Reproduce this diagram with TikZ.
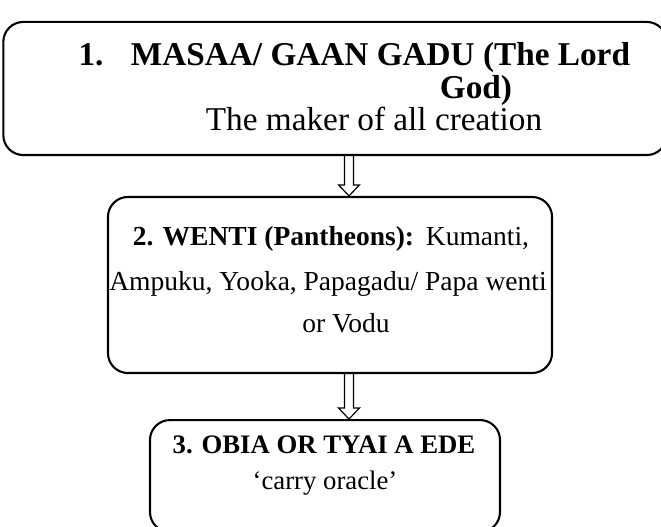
\documentclass[tikz,border=0pt]{standalone}
\usepackage{fontspec}
\setmainfont{Liberation Serif}
\usetikzlibrary{calc,positioning}
\newcommand\godfont{\fontsize{12.7}{14}\selectfont}
\newcommand\wentifont{\fontsize{10.5}{13}\selectfont}
\newcommand\obiafont{\fontsize{10.2}{12}\selectfont}
\tikzset{
  tierbox/.style={draw,line width=0.8pt,rounded corners=7.6pt,inner sep=0pt},
  lbl/.style={anchor=base,inner sep=0pt},
  hollowarrow/.style={line width=0.45pt,
    to path={let \p1=(\tikztostart),\p2=(\tikztotarget) in
      (\x1-1.7pt,\y1) -- (\x1-1.7pt,\y2+4.2pt) -- (\x1-4pt,\y2+4.2pt) -- (\x1,\y2)
      -- (\x1+4pt,\y2+4.2pt) -- (\x1+1.7pt,\y2+4.2pt) -- (\x1+1.7pt,\y1)}}
}
\begin{document}
\begin{tikzpicture}[x=0.3817pt,y=-0.3817pt]
    \useasboundingbox (0,0) rectangle (661,527);
    % the three tiers
    \node[tierbox,minimum width=253.2pt,minimum height=50.8pt] (god) at (335,88.5) {};
    \node[tierbox,minimum width=169.5pt,minimum height=67.2pt] (wenti) at (330,285) {};
    \node[tierbox,minimum width=133.6pt,minimum height=42.7pt] (obia) at (325,476) {};
    % texts
    \node[lbl,anchor=base west,font=\godfont\bfseries] (godA) at (78,66) {1.\hspace{10.5pt}MASAA/ GAAN GADU (The Lord};
    \node[lbl,font=\godfont\bfseries] (godB) at (476,99) {God)};
    \node[lbl,font=\godfont] (godC) at (374,131) {The maker of all creation};
    \node[lbl,font=\wentifont] (wentiA) at (331,246) {\textbf{2. WENTI (Pantheons):}\hspace{1pt} Kumanti,};
    \node[lbl,font=\wentifont] (wentiB) at (328,291) {Ampuku, Yooka, Papagadu/ Papa wenti};
    \node[lbl,font=\wentifont] (wentiC) at (346,333) {or Vodu};
    \node[lbl,font=\obiafont\bfseries] (obiaA) at (324,454) {3. OBIA OR TYAI A EDE};
    \node[lbl,font=\obiafont] (obiaB) at (325,490) {‘carry oracle’};
    % arrows
    \coordinate (down) at (349,0);
    \draw[hollowarrow] (god.south -| down) to (wenti.north -| down);
    \draw[hollowarrow] (wenti.south -| down) to (obia.north -| down);
\end{tikzpicture}
\end{document}
